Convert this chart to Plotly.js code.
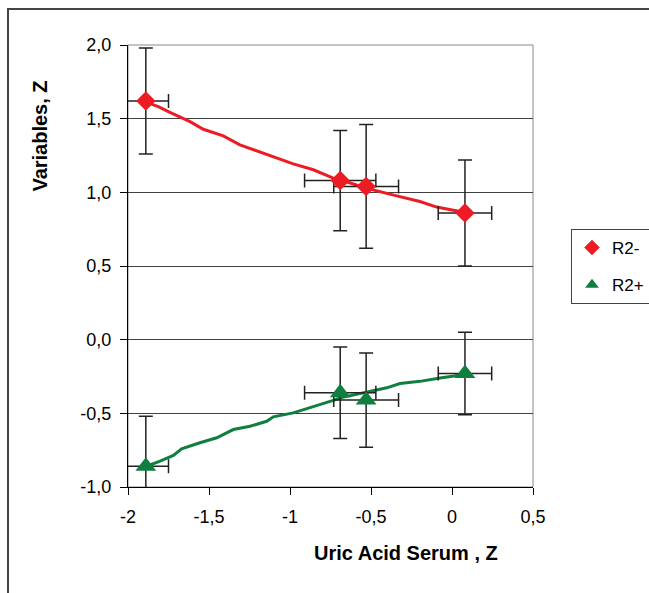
<!DOCTYPE html>
<html>
<head>
<meta charset="utf-8">
<script src="https://cdn.plot.ly/plotly-3.0.1.min.js"></script>
<style>
  html, body { margin: 0; padding: 0; background: #fff; }
  #chart { width: 649px; height: 593px; position: relative; }
  #frame { position: absolute; left: 7px; top: 8px; width: 800px; height: 800px;
           border-left: 2px solid #444; border-top: 2px solid #444; pointer-events: none; }
</style>
</head>
<body>
<div id="chart"></div>
<div id="frame"></div>
<script>
// ---- data ----
const pointX = [-1.89, -0.69, -0.53, 0.08];
const pointXErr = [0.14, 0.22, 0.20, 0.165];

const r2MinusY = [1.62, 1.08, 1.04, 0.86];
const r2MinusYErr = [0.36, 0.34, 0.42, 0.36];

const r2PlusY = [-0.86, -0.36, -0.41, -0.23];
const r2PlusYErr = [0.34, 0.31, 0.32, 0.28];

// trend curves
const redCurveX = [-1.889, -1.813, -1.751, -1.679, -1.617, -1.535, -1.412, -1.309, -1.165, -1.062, -0.980, -0.856, -0.733, -0.691, -0.527, -0.341, -0.198, -0.094, 0.080];
const redCurveY = [1.612, 1.582, 1.548, 1.510, 1.480, 1.428, 1.383, 1.322, 1.266, 1.225, 1.193, 1.153, 1.096, 1.085, 1.028, 0.976, 0.938, 0.900, 0.863];

const greenCurveX = [-1.885, -1.802, -1.720, -1.669, -1.556, -1.452, -1.350, -1.247, -1.144, -1.103, -0.980, -0.856, -0.733, -0.691, -0.527, -0.403, -0.321, -0.198, -0.074, 0.080];
const greenCurveY = [-0.859, -0.825, -0.786, -0.741, -0.700, -0.666, -0.610, -0.588, -0.554, -0.524, -0.497, -0.456, -0.412, -0.395, -0.357, -0.327, -0.298, -0.283, -0.260, -0.237];

const seriesNames = ['R2-', 'R2+'];

const xTickVals = [-2, -1.5, -1, -0.5, 0, 0.5];
const xTickText = ['-2', '-1,5', '-1', '-0,5', '0', '0,5'];
const yTickVals = [-1, -0.5, 0, 0.5, 1, 1.5, 2];
const yTickText = ['-1,0', '-0,5', '0,0', '0,5', '1,0', '1,5', '2,0'];

const xTitle = 'Uric Acid Serum , Z';
const yTitle = 'Variables, Z';

// ---- styling ----
const RED = '#ED1C24';
const GREEN = '#0E7F3E';
const ERR = '#222222';
const FONT = 'Liberation Sans, Arial, sans-serif';

function errX() { return {type: 'data', array: pointXErr, visible: true, color: ERR, thickness: 1.5, width: 7}; }

const traces = [
  {x: redCurveX, y: redCurveY, mode: 'lines', line: {color: RED, width: 3}, showlegend: false, hoverinfo: 'skip'},
  {x: greenCurveX, y: greenCurveY, mode: 'lines', line: {color: GREEN, width: 3}, showlegend: false, hoverinfo: 'skip'},
  {x: pointX, y: r2MinusY, name: seriesNames[0], mode: 'markers', legendgroup: 'a',
   marker: {symbol: 'diamond', size: 15, color: RED},
   error_y: {type: 'data', array: r2MinusYErr, visible: true, color: ERR, thickness: 1.5, width: 7},
   error_x: errX()},
  {x: pointX, y: r2PlusY, name: seriesNames[1], mode: 'markers', legendgroup: 'b',
   marker: {symbol: 'triangle-up', size: 18, color: GREEN},
   error_y: {type: 'data', array: r2PlusYErr, visible: true, color: ERR, thickness: 1.5, width: 7},
   error_x: errX()}
];

const layout = {
  width: 649, height: 593,
  margin: {l: 128, r: 116, t: 45, b: 106},
  paper_bgcolor: '#ffffff', plot_bgcolor: '#ffffff',
  font: {family: FONT, color: '#000', size: 18},
  showlegend: true,
  legend: {xref: 'container', yref: 'container', x: 571 / 649, xanchor: 'left', y: 1 - 229 / 593, yanchor: 'top',
           bordercolor: '#444', borderwidth: 1, bgcolor: '#fff',
           font: {family: FONT, size: 17, color: '#000'},
           itemsizing: 'constant', tracegroupgap: 12},
  xaxis: {range: [-2, 0.5], tickvals: xTickVals, ticktext: xTickText,
          showgrid: false, zeroline: false, showline: true, linecolor: '#000', linewidth: 1,
          ticks: 'outside', ticklen: 7, tickcolor: '#000', tickfont: {size: 18},
          ticklabelstandoff: 6, fixedrange: true},
  yaxis: {range: [-1, 2], tickvals: yTickVals, ticktext: yTickText,
          showgrid: true, gridcolor: '#404040', gridwidth: 1, zeroline: false,
          showline: true, linecolor: '#000', linewidth: 1,
          ticks: 'outside', ticklen: 7, tickcolor: '#000', tickfont: {size: 18},
          ticklabelstandoff: 5, fixedrange: true},
  shapes: [
    {type: 'rect', xref: 'paper', yref: 'paper', x0: 0, x1: 1, y0: 0, y1: 1,
     line: {color: '#888', width: 1}, layer: 'below'}
  ],
  annotations: [
    {text: xTitle, xref: 'paper', yref: 'paper', x: 0.686, y: -0.149, xanchor: 'center', yanchor: 'middle',
     showarrow: false, font: {family: FONT, size: 20, weight: 'bold', color: '#000'}},
    {text: yTitle, xref: 'paper', yref: 'paper', x: -0.217, y: 0.793, xanchor: 'center', yanchor: 'middle',
     textangle: -90, showarrow: false, font: {family: FONT, size: 20, weight: 'bold', color: '#000'}}
  ]
};

Plotly.newPlot('chart', traces, layout, {staticPlot: true, displayModeBar: false});
</script>
</body>
</html>
